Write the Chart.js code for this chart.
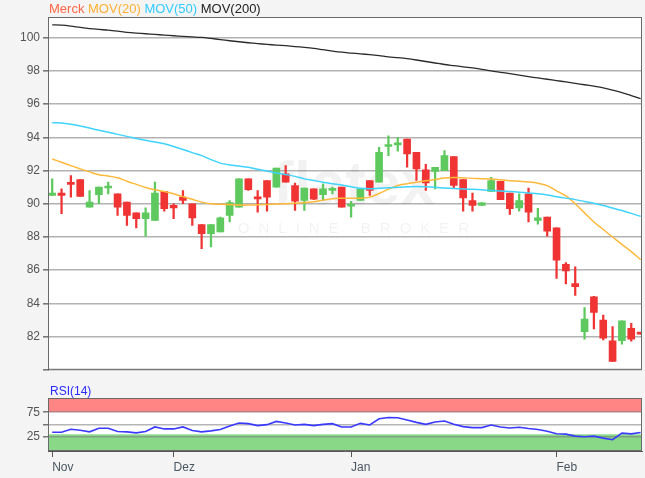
<!DOCTYPE html>
<html><head><meta charset="utf-8">
<script src="https://cdn.jsdelivr.net/npm/chart.js@4/dist/chart.umd.min.js"></script>
<style>
html,body{margin:0;padding:0;background:#f4f4f4;}
#wrap{position:relative;width:645px;height:478px;overflow:hidden;font-family:"Liberation Sans",Arial,sans-serif;}
#c1{position:absolute;left:0;top:0;}
#c2{position:absolute;left:0;top:380px;}
.leg{position:absolute;left:49px;top:1px;font-size:13px;white-space:nowrap;}
.rsi{position:absolute;left:50px;top:384px;font-size:12px;color:#2a2aff;}
</style></head><body>
<div id="wrap">
<canvas id="c1" width="645" height="380"></canvas>
<canvas id="c2" width="645" height="98"></canvas>
<div class="leg"><span style="color:#ff6644">Merck</span> <span style="color:#ffb030">MOV(20)</span> <span style="color:#30ccff">MOV(50)</span> <span style="color:#222">MOV(200)</span></div>
<div class="rsi">RSI(14)</div>
</div>
<script>
// ---- data (one entry per trading day) ----
const opens  = [90.5,90.65,91.22,91.45,89.8,90.55,90.95,90.6,90.1,89.45,89.1,89.0,90.75,89.9,90.4,90.0,88.75,88.2,88.3,89.3,89.8,91.5,90.35,91.4,91.0,91.8,91.1,90.2,90.9,90.55,90.8,91.0,89.85,90.2,91.4,91.3,93.45,93.55,93.9,93.1,92.05,91.95,92.0,92.85,91.45,90.2,89.9,90.75,91.35,90.65,89.75,90.6,89.0,89.2,88.55,86.35,85.2,82.3,84.4,83.0,81.75,81.75,82.5,82.2];
const highs  = [91.5,90.9,91.7,91.45,90.8,91.0,91.3,90.6,90.1,89.45,89.75,91.3,90.75,90.0,90.8,90.0,88.75,88.75,89.2,90.2,91.5,91.5,90.8,91.4,92.15,92.3,91.25,90.95,90.9,91.2,91.0,91.0,90.15,90.9,91.4,93.4,94.1,94.0,93.9,93.1,92.38,92.2,93.2,92.85,91.45,90.64,90.07,91.6,91.35,90.65,90.6,90.94,89.72,89.2,88.55,86.46,86.2,83.75,84.43,83.3,82.6,82.95,82.8,82.2];
const lows   = [90.5,89.4,90.4,90.45,89.8,90.0,90.6,89.3,88.7,88.55,88.05,89.0,89.55,89.1,90.0,88.7,87.3,87.4,88.3,88.9,89.8,90.8,89.5,89.55,91.0,91.3,89.6,89.6,90.25,90.2,90.6,89.8,89.2,90.2,90.5,91.3,92.9,93.17,92.2,91.4,90.8,90.9,92.0,90.94,89.55,89.55,89.9,90.75,90.25,89.36,89.55,88.9,88.77,88.05,85.5,85.18,84.48,81.85,82.46,81.8,80.5,81.55,81.73,82.15];
const closes = [90.65,90.5,91.17,90.45,90.1,91.0,91.0,89.8,89.3,89.1,89.45,90.65,89.7,89.75,90.2,89.15,88.2,88.75,89.15,90.07,91.5,90.85,90.3,90.4,92.15,91.3,90.15,90.95,90.27,90.9,90.93,89.8,89.9,90.9,90.8,93.1,93.55,93.65,93.0,92.1,91.25,92.2,92.9,91.1,90.35,89.9,90.05,91.4,90.25,89.7,90.2,89.5,89.15,88.35,86.6,85.95,85.0,83.05,83.45,81.9,80.5,82.95,81.85,82.15];
const mov20  = [92.70,92.50,92.30,92.10,91.92,91.75,91.67,91.57,91.36,91.17,90.98,90.84,90.74,90.60,90.43,90.27,90.10,90.00,89.97,89.95,89.92,89.92,89.94,89.96,89.98,90.00,90.03,90.07,90.12,90.22,90.31,90.33,90.34,90.33,90.40,90.62,90.88,91.10,91.21,91.30,91.38,91.46,91.55,91.58,91.56,91.53,91.51,91.49,91.44,91.39,91.35,91.31,91.24,91.09,90.78,90.47,90.00,89.45,88.90,88.45,88.00,87.55,87.12,86.64];
const mov50  = [94.88,94.87,94.79,94.68,94.56,94.43,94.31,94.18,94.06,93.93,93.82,93.72,93.62,93.45,93.27,93.08,92.90,92.66,92.45,92.34,92.27,92.20,92.08,91.97,91.86,91.76,91.65,91.50,91.40,91.30,91.21,91.13,91.03,90.93,90.90,90.93,90.96,91.00,91.02,91.04,91.02,90.99,90.95,90.92,90.89,90.87,90.84,90.80,90.77,90.74,90.70,90.65,90.60,90.53,90.43,90.34,90.25,90.14,90.03,89.90,89.74,89.59,89.42,89.24];
const mov200 = [100.78,100.76,100.70,100.62,100.55,100.50,100.46,100.40,100.33,100.28,100.24,100.20,100.16,100.12,100.08,100.05,100.02,99.96,99.89,99.82,99.76,99.70,99.65,99.60,99.56,99.52,99.47,99.42,99.36,99.28,99.20,99.13,99.08,99.03,98.98,98.92,98.85,98.80,98.74,98.66,98.57,98.48,98.39,98.32,98.25,98.18,98.10,98.00,97.92,97.84,97.75,97.66,97.58,97.50,97.42,97.34,97.25,97.17,97.08,96.98,96.85,96.70,96.52,96.33];
const rsi14  = [34.3,34.3,40.3,38.3,35,42.3,42.3,35.7,35,33,35.7,45,41,41,45,37.7,35,37,39.7,47,53,51.7,47.7,49.7,56.3,53,49,50.3,47.7,50.3,51.7,45,45,52.3,49,61.7,64.3,63.7,59,54.3,50.3,55,57,50.3,45.7,43.7,43.7,49,45,43,44.3,41.7,39.7,36.3,31,30.3,26.3,25,26.3,22.3,19,32.3,31,33.7];
const priceTicks = [80,82,84,86,88,90,92,94,96,98,100];
const rsiTicks = [25,50,75];
const rsiLabelled = [25,75];
const monthLabels = ['Nov','Dez','Jan','Feb'];
const monthIdx = [0,13,32,54];
const rsiUpperBand = [75,104];
const rsiLowerBand = [-4,30];

// ---- styling ----
const FONT = '"Liberation Sans", Arial, sans-serif';
const UP = '#5ec95e', DOWN = '#f03434';
const X_MIN = -0.45, X_MAX = 63.15;
const col = closes.map((c,i)=> c >= opens[i] ? UP : DOWN);

const bgFrame = {
  id:'bgFrame',
  beforeDraw(c){const {ctx,chartArea:a}=c;ctx.save();ctx.fillStyle='#fff';ctx.fillRect(a.left,a.top,a.width,a.height);ctx.restore();},
  afterDraw(c){const {ctx,chartArea:a}=c;ctx.save();ctx.strokeStyle='#6a6a6a';ctx.lineWidth=1;ctx.strokeRect(a.left+0.5,a.top+0.5,a.width-1,a.height-1);ctx.restore();}
};
const watermark = {
  id:'watermark',
  beforeDatasetsDraw(c){const {ctx}=c;ctx.save();
    ctx.fillStyle='rgba(0,0,0,0.05)';ctx.textAlign='center';ctx.textBaseline='alphabetic';
    ctx.font='bold 62px '+FONT;ctx.fillText('flatex',354,204);
    ctx.font='15px '+FONT;try{ctx.letterSpacing='9px';}catch(e){}
    ctx.fillText('ONLINE BROKER',358,233);ctx.restore();}
};
const bands = {
  id:'bands',
  beforeDraw(c){const {ctx,chartArea:a,scales:{y}}=c;ctx.save();
    const fill=(b,color)=>{const y1=y.getPixelForValue(b[1]),y0=y.getPixelForValue(b[0]);ctx.fillStyle=color;ctx.fillRect(a.left,y1,a.width,y0-y1);};
    fill(rsiUpperBand,'#ff8585');fill(rsiLowerBand,'#88d888');ctx.restore();}
};

new Chart(document.getElementById('c1'),{
  data:{datasets:[
    {type:'bar',data:lows.map((l,i)=>({x:i,y:[l,highs[i]]})),backgroundColor:col,barThickness:1.6,grouped:false,order:3},
    {type:'bar',data:opens.map((o,i)=>({x:i,y:[o,closes[i]]})),backgroundColor:col,barThickness:7,minBarLength:2,grouped:false,order:2},
    {type:'line',data:mov200.map((v,i)=>({x:i,y:v})),borderColor:'#2b2b2b',borderWidth:1.3,pointRadius:0,tension:0.3,order:1},
    {type:'line',data:mov50.map((v,i)=>({x:i,y:v})),borderColor:'#3fd3ff',borderWidth:1.5,pointRadius:0,tension:0.3,order:1},
    {type:'line',data:mov20.map((v,i)=>({x:i,y:v})),borderColor:'#ffb93a',borderWidth:1.5,pointRadius:0,tension:0.3,order:1}
  ]},
  options:{
    responsive:false,animation:false,devicePixelRatio:1,
    layout:{padding:{top:17,right:3,bottom:2,left:0}},
    plugins:{legend:{display:false},tooltip:{enabled:false}},
    scales:{
      x:{type:'linear',min:X_MIN,max:X_MAX,offset:false,display:false},
      y:{min:80,max:101.25,
        afterFit(s){s.width=48;},
        afterBuildTicks(s){s.ticks=priceTicks.map(v=>({value:v}));},
        ticks:{color:'#555',font:{size:12,family:FONT},padding:3,callback:v=>v===80?'':String(v)},
        grid:{color:'#b2b2b2',lineWidth:1.6,tickLength:5,tickColor:'#777'},
        border:{color:'#555',width:1}}
    }
  },
  plugins:[bgFrame,watermark]
});

new Chart(document.getElementById('c2'),{
  data:{datasets:[
    {type:'line',data:rsi14.map((v,i)=>({x:i,y:v})),borderColor:'#3a3aff',borderWidth:1.6,pointRadius:0,tension:0}
  ]},
  options:{
    responsive:false,animation:false,devicePixelRatio:1,
    layout:{padding:{top:18,right:3,bottom:0,left:0}},
    plugins:{legend:{display:false},tooltip:{enabled:false}},
    scales:{
      x:{type:'linear',min:X_MIN,max:X_MAX,offset:false,
        afterFit(s){s.height=27;},
        afterBuildTicks(s){s.ticks=monthIdx.map(v=>({value:v}));},
        ticks:{color:'#4a5560',font:{size:12,family:FONT},align:'start',autoSkip:false,maxRotation:0,padding:3,
          callback:v=>monthLabels[monthIdx.indexOf(v)]},
        grid:{drawOnChartArea:false,tickLength:6,tickColor:'#555'},
        border:{color:'#555',width:1}},
      y:{min:-4,max:104,
        afterFit(s){s.width=48;},
        afterBuildTicks(s){s.ticks=rsiTicks.map(v=>({value:v}));},
        ticks:{color:'#555',font:{size:12,family:FONT},padding:3,callback:v=>rsiLabelled.includes(v)?String(v):''},
        grid:{color:'rgba(120,120,120,0.55)',lineWidth:1.5,tickLength:5,tickColor:'#777'},
        border:{color:'#555',width:1}}
    }
  },
  plugins:[bgFrame,bands]
});
</script>
</body></html>
